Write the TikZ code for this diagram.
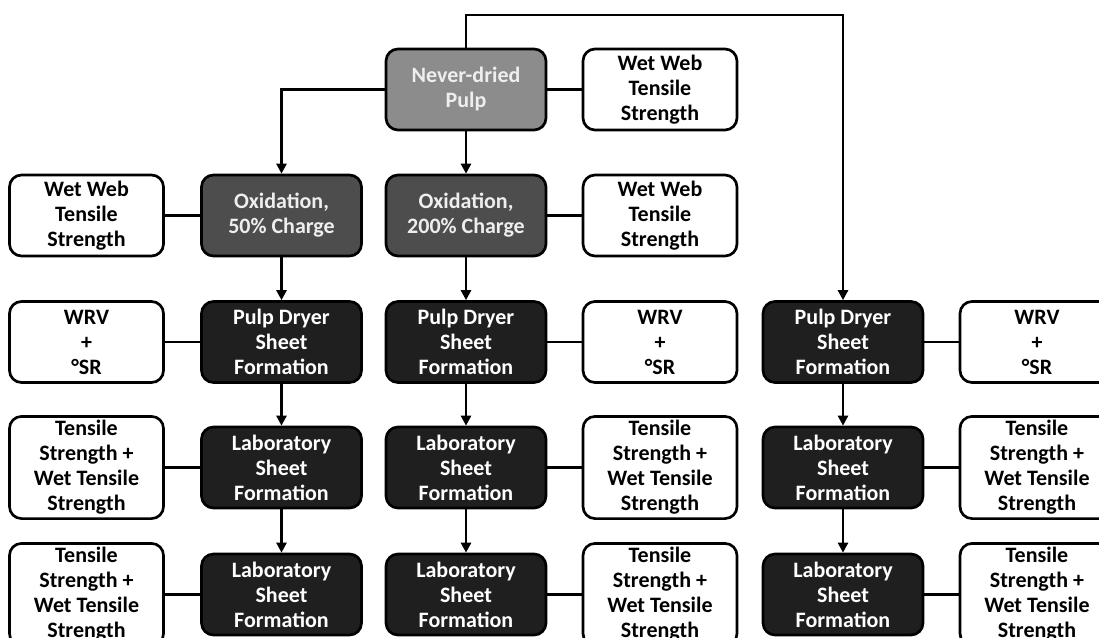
\documentclass[tikz,border=0pt]{standalone}
\usepackage{fontspec}
\setmainfont{Carlito}
\usetikzlibrary{arrows.meta}

\definecolor{pulpfill}{HTML}{8C8C8C}
\definecolor{pulptext}{HTML}{EEEEEE}
\definecolor{oxfill}{HTML}{4D4D4D}
\definecolor{stagefill}{HTML}{1F1F1F}

\begin{document}
\begin{tikzpicture}[x=0.75pt, y=-0.75pt,
        box/.style={draw=black, line width=2pt, rounded corners=9pt, align=center,
            font=\bfseries\fontsize{16.5}{18.75}\selectfont, inner xsep=2pt, inner ysep=3pt,
            minimum height=60.75pt},
        stage/.style={box, minimum width=120pt, fill=stagefill, text=white},
        test/.style={box, minimum width=115.5pt, fill=white, text=black},
        flow/.style={line width=2pt, -{Triangle[length=7.5pt, width=7.5pt]}},
        link/.style={line width=2pt}]

        \useasboundingbox (0,0) rectangle (1099,638);

        \def\rowone{89.5}
        \def\rowtwo{215.5}
        \def\rowthree{342}
        \def\rowfour{467.5}
        \def\rowfive{594.5}

        \node[stage, fill=pulpfill, text=pulptext] (never) at (466,\rowone) {Never-dried\\Pulp};
        \node[test] (wwtop) at (660,\rowone) {Wet Web\\Tensile\\Strength};

        \node[stage, fill=oxfill, text=pulptext] (oxa) at (281.5,\rowtwo) {Oxidation,\\50\% Charge};
        \node[test] (wwa) at (86.5,\rowtwo) {Wet Web\\Tensile\\Strength};
        \node[stage, fill=oxfill, text=pulptext] (oxb) at (466,\rowtwo) {Oxidation,\\200\% Charge};
        \node[test] (wwb) at (660,\rowtwo) {Wet Web\\Tensile\\Strength};

        \node[stage] (pda) at (281.5,\rowthree) {Pulp Dryer\\Sheet\\Formation};
        \node[test] (wrva) at (86.5,\rowthree) {WRV\\+\\°SR};
        \node[stage] (pdb) at (466,\rowthree) {Pulp Dryer\\Sheet\\Formation};
        \node[test] (wrvb) at (660,\rowthree) {WRV\\+\\°SR};
        \node[stage] (pdc) at (843,\rowthree) {Pulp Dryer\\Sheet\\Formation};
        \node[test] (wrvc) at (1037,\rowthree) {WRV\\+\\°SR};

        \node[stage] (laba) at (281.5,\rowfour) {Laboratory\\Sheet\\Formation};
        \node[test] (tsa) at (86.5,\rowfour) {Tensile\\Strength +\\Wet Tensile\\Strength};
        \node[stage] (labb) at (466,\rowfour) {Laboratory\\Sheet\\Formation};
        \node[test] (tsb) at (660,\rowfour) {Tensile\\Strength +\\Wet Tensile\\Strength};
        \node[stage] (labc) at (843,\rowfour) {Laboratory\\Sheet\\Formation};
        \node[test] (tsc) at (1037,\rowfour) {Tensile\\Strength +\\Wet Tensile\\Strength};

        \node[stage] (labaa) at (281.5,\rowfive) {Laboratory\\Sheet\\Formation};
        \node[test] (tsaa) at (86.5,\rowfive) {Tensile\\Strength +\\Wet Tensile\\Strength};
        \node[stage] (labbb) at (466,\rowfive) {Laboratory\\Sheet\\Formation};
        \node[test] (tsbb) at (660,\rowfive) {Tensile\\Strength +\\Wet Tensile\\Strength};
        \node[stage] (labcc) at (843,\rowfive) {Laboratory\\Sheet\\Formation};
        \node[test] (tscc) at (1037,\rowfive) {Tensile\\Strength +\\Wet Tensile\\Strength};

        \coordinate (topturn) at (843,15);

        \draw[flow] (never) -- (oxb);
        \draw[flow] (never.west) -| (oxa.north);
        \draw[flow] (never.north) |- (topturn) -- (pdc.north);

        \foreach \from/\to in {oxa/pda, pda/laba, laba/labaa, oxb/pdb, pdb/labb, labb/labbb, pdc/labc, labc/labcc}
            \draw[flow] (\from) -- (\to);

        \foreach \from/\to in {never/wwtop, oxa/wwa, oxb/wwb, pda/wrva, pdb/wrvb, pdc/wrvc,
                laba/tsa, labb/tsb, labc/tsc, labaa/tsaa, labbb/tsbb, labcc/tscc}
            \draw[link] (\from) -- (\to);

    \end{tikzpicture}
\end{document}
